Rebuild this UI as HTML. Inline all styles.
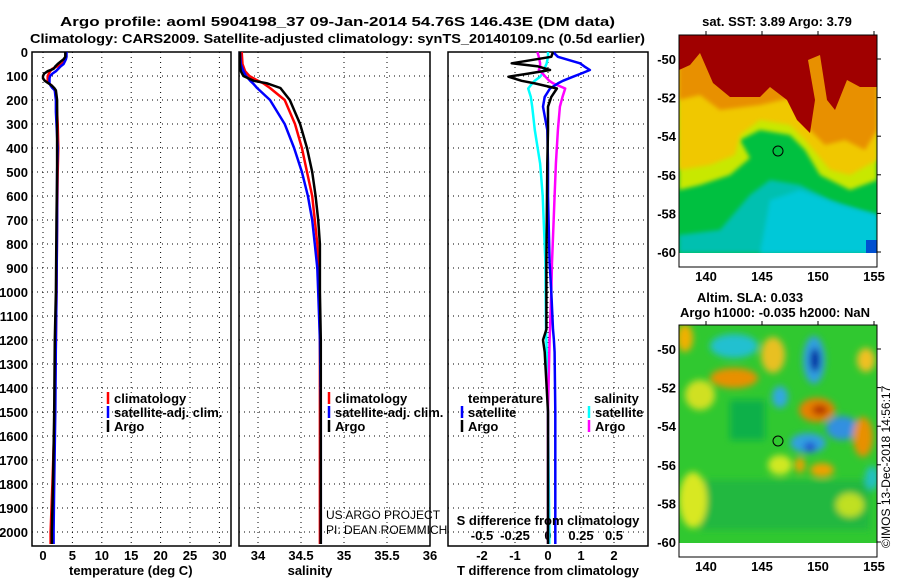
<!DOCTYPE html>
<html><head><meta charset="utf-8"><style>
body{margin:0;background:#fff;}
svg{display:block;font-family:"Liberation Sans",Arial,sans-serif;}
.b{font-weight:bold;font-size:13px;}
</style></head><body>
<svg id="c" width="900" height="580" viewBox="0 0 900 580">
<defs>
<clipPath id="m1c"><rect x="679" y="35" width="198" height="218"/></clipPath>
<clipPath id="m2c"><rect x="679" y="325" width="198" height="218"/></clipPath>
<filter id="bl" x="-50%" y="-50%" width="200%" height="200%"><feGaussianBlur stdDeviation="3.5"/></filter>
<filter id="bl2" x="-50%" y="-50%" width="200%" height="200%"><feGaussianBlur stdDeviation="2"/></filter>
</defs>
<text class="b" x="60" y="26" font-size="15" textLength="555" lengthAdjust="spacingAndGlyphs">Argo profile: aoml 5904198_37 09-Jan-2014 54.76S 146.43E (DM data)</text>
<text class="b" x="30" y="43" font-size="15" textLength="615" lengthAdjust="spacingAndGlyphs">Climatology: CARS2009. Satellite-adjusted climatology: synTS_20140109.nc (0.5d earlier)</text>

<!-- map 1 -->
<g>
<g clip-path="url(#m1c)">
<rect x="679" y="35" width="198" height="218" fill="#00c040"/>
<path d="M679 235 L720 230 L750 195 L770 180 L800 185 L830 200 L860 210 L877 215 L877 253 L679 253Z" fill="#00c0b0" filter="url(#bl2)"/>
<path d="M760 253 L770 200 L800 190 L840 205 L877 215 L877 253Z" fill="#00c8d8" filter="url(#bl2)"/>
<path d="M679 190 L700 185 L730 175 L750 158 L740 140 L760 130 L790 135 L805 150 L820 175 L850 190 L877 180 L877 35 L679 35Z" fill="#c8e800" filter="url(#bl2)"/>
<path d="M679 170 L710 165 L735 155 L740 135 L760 120 L790 125 L805 140 L830 170 L850 175 L877 160 L877 35 L679 35Z" fill="#f0c800" filter="url(#bl2)"/>
<path d="M679 100 L700 95 L720 110 L760 105 L790 98 L805 125 L825 145 L845 140 L865 150 L877 130 L877 35 L679 35Z" fill="#e89000" filter="url(#bl2)"/>
<path d="M679 70 L690 65 L700 53 L713 83 L730 97 L760 97 L770 87 L787 100 L797 120 L810 133 L815 100 L808 60 L820 55 L827 100 L835 110 L847 80 L860 87 L877 87 L877 35 L679 35Z" fill="#a00000"/>
<rect x="866" y="240" width="11" height="13" fill="#0050d0"/>
<rect x="679" y="253" width="198" height="14" fill="#fff"/>
</g>
<rect x="679" y="35" width="198" height="232" fill="none" stroke="#000"/>
<circle cx="778" cy="151" r="5" fill="#00c040" stroke="#000"/>
</g>
<text class="b" x="777" y="26" text-anchor="middle">sat. SST: 3.89 Argo: 3.79</text>

<!-- map 2 -->
<g>
<g clip-path="url(#m2c)">
<rect x="679" y="325" width="198" height="218" fill="#30c830"/>
<g filter="url(#bl)">
<rect x="730" y="400" width="35" height="40" fill="#10b048"/>
<rect x="700" y="480" width="170" height="50" fill="#20b840"/>
<ellipse cx="693" cy="500" rx="14" ry="28" fill="#d8e820"/>
<ellipse cx="685" cy="338" rx="8" ry="14" fill="#f0b000"/>
<ellipse cx="734" cy="346" rx="24" ry="12" fill="#20c0d0"/>
<ellipse cx="734" cy="378" rx="24" ry="10" fill="#e89000"/>
<ellipse cx="700" cy="395" rx="15" ry="15" fill="#d0e020"/>
<ellipse cx="773" cy="355" rx="12" ry="18" fill="#e8c020"/>
<ellipse cx="814" cy="360" rx="11" ry="24" fill="#30a0e0"/>
<ellipse cx="815" cy="360" rx="5" ry="12" fill="#0020a0"/>
<ellipse cx="780" cy="397" rx="8" ry="11" fill="#30a8e0"/>
<ellipse cx="817" cy="410" rx="18" ry="12" fill="#e88000"/>
<ellipse cx="820" cy="410" rx="8" ry="5" fill="#b03000"/>
<ellipse cx="842" cy="428" rx="16" ry="12" fill="#3090e0"/>
<ellipse cx="863" cy="437" rx="10" ry="20" fill="#e89000"/>
<ellipse cx="808" cy="443" rx="18" ry="10" fill="#30a0e0"/>
<ellipse cx="810" cy="447" rx="6" ry="5" fill="#2050d0"/>
<ellipse cx="822" cy="470" rx="12" ry="7" fill="#f0a000"/>
<ellipse cx="800" cy="465" rx="5" ry="8" fill="#f0a000"/>
<ellipse cx="866" cy="360" rx="9" ry="12" fill="#f0c020"/>
<ellipse cx="872" cy="478" rx="7" ry="12" fill="#20c0c0"/>
<ellipse cx="780" cy="465" rx="12" ry="10" fill="#d0e820"/>
<ellipse cx="850" cy="505" rx="14" ry="12" fill="#c0e020"/>
</g>
<rect x="679" y="543" width="198" height="14" fill="#fff"/>
</g>
<rect x="679" y="325" width="198" height="232" fill="none" stroke="#000"/>
<circle cx="778" cy="441" r="5" fill="#30c830" stroke="#000"/>
</g>
<text class="b" x="750" y="302" text-anchor="middle">Altim. SLA: 0.033</text>
<text class="b" x="775" y="317" text-anchor="middle">Argo h1000: -0.035 h2000: NaN</text>
<text x="890" y="548" font-size="12" transform="rotate(-90 890 548)">©IMOS 13-Dec-2018 14:56:17</text>

<g id="plots"></g>

<text class="b" x="69" y="575">temperature (deg C)</text>
<text class="b" x="310" y="575" text-anchor="middle">salinity</text>
<text class="b" x="548" y="575" text-anchor="middle">T difference from climatology</text>
<text class="b" x="548" y="525" text-anchor="middle">S difference from climatology</text>
<text x="326" y="519" font-size="12">US ARGO PROJECT</text>
<text x="326" y="534" font-size="12">PI: DEAN ROEMMICH</text>
</svg>
<script>
// depths (dbar)
const tDepth = [0,20,30,40,50,60,70,80,90,100,110,120,130,140,150,160,180,200,250,300,400,500,700,1000,1200,1500,1800,2000,2050];
const tArgo  = [3.8,3.8,3.5,3.0,2.5,2.1,1.8,0.8,0.2,0.0,0.0,0.3,0.9,1.5,1.9,2.2,2.3,2.4,2.4,2.4,2.4,2.4,2.3,2.2,2.0,1.9,1.7,1.5,1.5];
const tClim  = [3.9,3.9,3.8,3.6,3.2,2.4,1.6,1.2,1.0,0.8,0.8,0.8,1.0,1.5,1.8,2.0,2.2,2.3,2.4,2.5,2.6,2.5,2.4,2.3,2.2,2.0,1.6,1.3,1.3];
const tSat   = [4.0,4.0,3.9,3.7,3.5,3.0,2.6,2.2,1.6,1.2,1.1,1.1,1.1,1.3,1.6,2.0,2.1,2.2,2.2,2.3,2.5,2.4,2.4,2.3,2.2,2.1,1.9,1.8,1.8];
const sDepth = [0,50,80,100,120,130,150,200,300,400,500,600,700,800,900,1000,1200,1500,2000,2050];
const sArgo  = [33.79,33.79,33.80,33.83,33.95,34.10,34.26,34.37,34.49,34.57,34.63,34.67,34.70,34.72,34.72,34.72,34.73,34.73,34.73,34.73];
const sClim  = [33.81,33.82,33.85,33.90,34.00,34.06,34.14,34.31,34.43,34.51,34.57,34.63,34.66,34.69,34.70,34.71,34.72,34.72,34.72,34.72];
const sSat   = [33.79,33.80,33.83,33.86,33.91,33.94,33.99,34.14,34.31,34.42,34.51,34.58,34.63,34.66,34.69,34.70,34.72,34.73,34.73,34.73];
const dDepth = [0,20,47,60,75,90,103,120,131,152,187,228,325,464,600,878,1000,1156,1200,1250,1500,2000,2050];
const dTArgo = [0.15,0.1,-1.1,-0.3,0.06,-0.6,-1.2,-0.8,-0.4,0.27,0.1,0.0,0.0,-0.02,-0.03,-0.05,-0.05,-0.05,-0.15,-0.1,0.0,0.0,0.0];
const dTSat  = [0.15,0.3,0.97,1.1,1.27,1.0,0.76,0.45,0.3,0.06,-0.1,-0.15,-0.02,0.0,0.0,0.05,0.1,0.15,0.18,0.2,0.22,0.22,0.22];
const dSArgo = [-0.08,-0.07,-0.06,-0.06,-0.07,-0.04,-0.02,0.01,0.04,0.13,0.11,0.09,0.075,0.06,0.05,0.03,0.025,0.015,0.012,0.01,0.0,0.0,0.0];
const dSSat  = [0.0,0.0,-0.01,-0.02,-0.03,-0.04,-0.06,-0.1,-0.12,-0.15,-0.13,-0.12,-0.1,-0.06,-0.04,-0.02,-0.018,-0.015,-0.012,-0.01,0.0,0.01,0.01];
const depthTicks = [0,100,200,300,400,500,600,700,800,900,1000,1100,1200,1300,1400,1500,1600,1700,1800,1900,2000];
const tTicks = [0,5,10,15,20,25,30];
const sTicks = [34,34.5,35,35.5,36];
const tdTicks = [-2,-1,0,1,2];
const sdTicks = [-0.5,-0.25,0,0.25,0.5];
const latTicks = [-50,-52,-54,-56,-58,-60];
const lonTicks = [140,145,150,155];

const NS='http://www.w3.org/2000/svg';
const g=document.getElementById('plots');
const yD=d=>52+d*0.24;
const xT=v=>43+v*5.88;
const xS=v=>258+(v-34)*86;
const xTD=v=>548+v*33;
const xSD=v=>548+v*132;
const yLat1=l=>59+(-50-l)*19.3;
const yLat2=l=>349+(-50-l)*19.3;
const xLon=l=>706+(l-140)*11.2;
function mk(t,a,p){const e=document.createElementNS(NS,t);for(const k in a)e.setAttribute(k,a[k]);(p||g).appendChild(e);return e;}
function txt(x,y,s,anchor,cls){const e=mk('text',{x:x,y:y,'text-anchor':anchor||'start','class':cls||'b'});e.textContent=s;return e;}

const panels=[[32,231],[239,430],[448,648]];
panels.forEach((p,i)=>{
  const r=mk('rect',{x:p[0],y:52,width:p[1]-p[0],height:494,fill:'none',stroke:'#000','stroke-width':1.5});
  
  
  depthTicks.forEach(d=>{
    const l=mk('line',{x1:p[0],x2:p[1],y1:yD(d),y2:yD(d),stroke:'#000','stroke-dasharray':'1 4'});
    
    
  });
});
depthTicks.forEach(d=>{
  const t=txt(28,yD(d)+5,String(d),'end');
  
  
});
function vgrid(p,ticks,fx){ticks.forEach(v=>{const l=mk('line',{x1:fx(v),x2:fx(v),y1:52,y2:546,stroke:'#000','stroke-dasharray':'1 4'});
  
  });}
vgrid(0,tTicks,xT);vgrid(1,sTicks,xS);vgrid(2,tdTicks,xTD);
tTicks.forEach(v=>{const t=txt(xT(v),560,String(v),'middle');
  
  });
sTicks.forEach(v=>{const t=txt(xS(v),560,String(v),'middle');
  
  });
tdTicks.forEach(v=>{const t=txt(xTD(v),560,String(v),'middle');
  
  });
sdTicks.forEach(v=>{const t=txt(xSD(v),540,String(v),'middle');
  
  });
[[yLat1,35,267],[yLat2,325,557]].forEach(m=>{
  latTicks.forEach(l=>{const t=txt(676,m[0](l)+5,String(l),'end');
    
    
    mk('line',{x1:877,x2:881,y1:m[0](l),y2:m[0](l),stroke:'#000'});});
  lonTicks.forEach(l=>{const t=txt(xLon(l),m[2]+14,String(l),'middle');
    
    
    mk('line',{x1:xLon(l),x2:xLon(l),y1:m[1]-4,y2:m[1],stroke:'#000'});});
});
function line(depths,vals,fx,color,name){
  const pts=depths.map((d,i)=>fx(vals[i]).toFixed(1)+','+yD(d).toFixed(1)).join(' ');
  const l=mk('polyline',{points:pts,fill:'none',stroke:color,'stroke-width':2.5,'stroke-linejoin':'round'});
  
  
}
line(tDepth,tClim,xT,'#f00','temperature-climatology-line');
line(tDepth,tSat,xT,'#00f','temperature-satellite-line');
line(tDepth,tArgo,xT,'#000','temperature-argo-line');
line(sDepth,sClim,xS,'#f00','salinity-climatology-line');
line(sDepth,sSat,xS,'#00f','salinity-satellite-line');
line(sDepth,sArgo,xS,'#000','salinity-argo-line');
line(dDepth,dSSat,xSD,'#0ff','s-diff-satellite-line');
line(dDepth,dSArgo,xSD,'#f0f','s-diff-argo-line');
line(dDepth,dTSat,xTD,'#00f','t-diff-satellite-line');
line(dDepth,dTArgo,xTD,'#000','t-diff-argo-line');
function leg(x,y,color,label){
  mk('line',{x1:x,x2:x,y1:y-11,y2:y+1,stroke:color,'stroke-width':2.5});
  const t=txt(x+6,y,label,'start');
  
  
}
leg(108,403,'#f00','climatology');leg(108,417,'#00f','satellite-adj. clim.');leg(108,431,'#000','Argo');
leg(329,403,'#f00','climatology');leg(329,417,'#00f','satellite-adj. clim.');leg(329,431,'#000','Argo');
const lt=txt(468,403,'temperature','start');


const ls=txt(594,403,'salinity','start');


leg(462,417,'#00f','satellite');leg(462,431,'#000','Argo');
leg(589,417,'#0ff','satellite');leg(589,431,'#f0f','Argo');
</script>
</body></html>
